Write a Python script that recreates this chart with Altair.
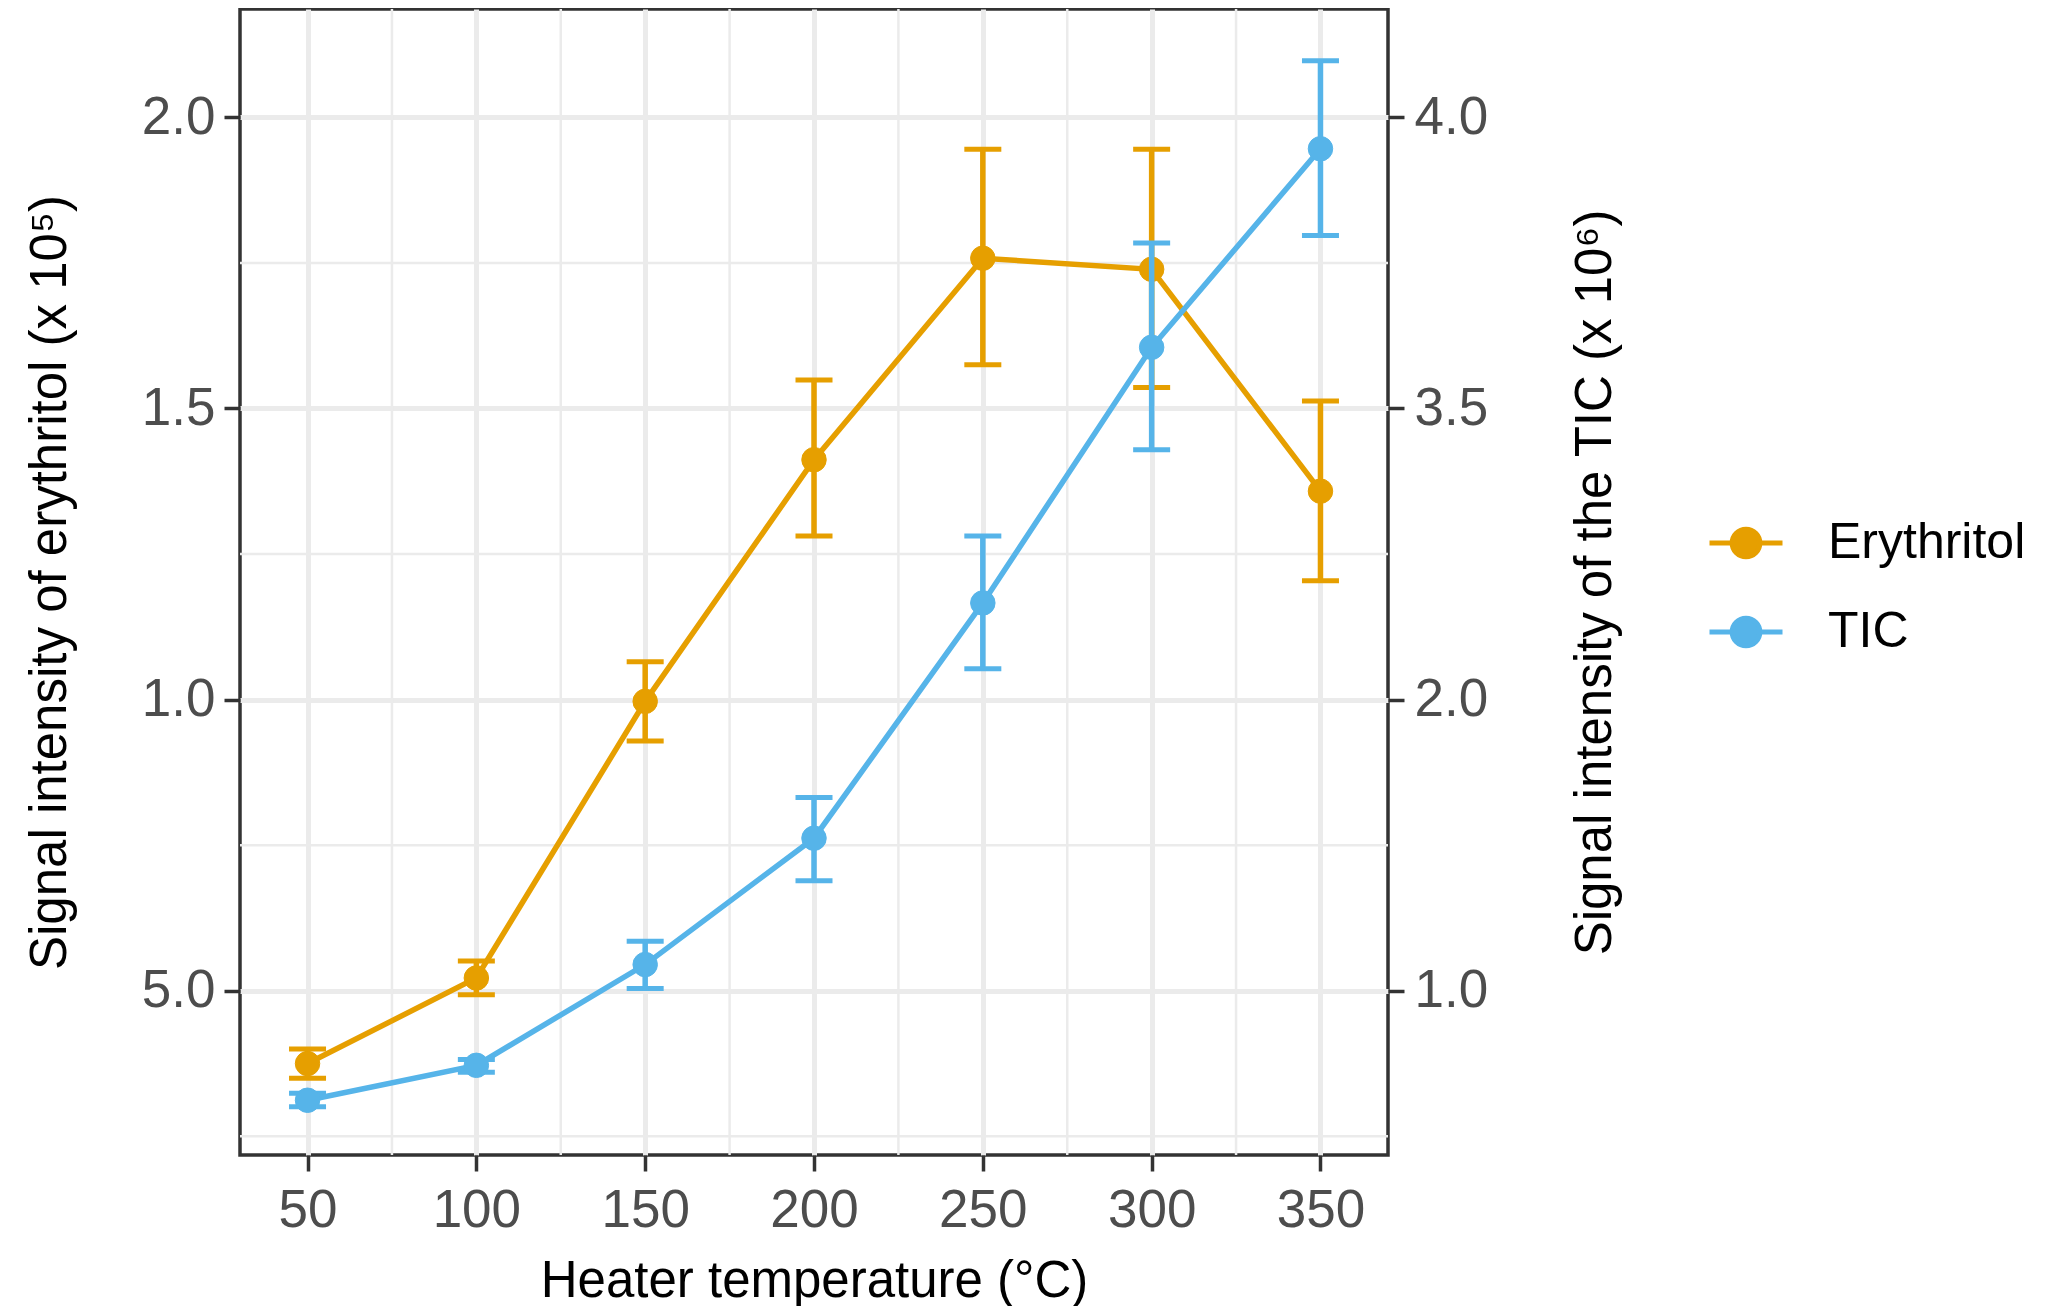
import altair as alt
import pandas as pd

# Heater temperature (°C)
temperature = [50, 100, 150, 200, 250, 300, 350]

# Erythritol signal (x 10^5): mean and error bar ends
ery_mean = [0.375, 0.522, 0.997, 1.412, 1.758, 1.739, 1.358]
ery_lo = [0.350, 0.493, 0.929, 1.281, 1.575, 1.536, 1.204]
ery_hi = [0.400, 0.551, 1.065, 1.549, 1.945, 1.945, 1.513]

# TIC signal (x 10^6): mean and error bar ends
tic_mean = [0.624, 0.744, 1.090, 1.524, 2.498, 3.605, 3.946]
tic_lo = [0.602, 0.720, 1.008, 1.378, 2.159, 3.287, 3.797]
tic_hi = [0.648, 0.764, 1.170, 1.664, 2.843, 3.784, 4.097]

series_names = ["Erythritol", "TIC"]
series_colors = ["#E69F00", "#56B4E9"]

# axis ticks and labels
x_ticks = [50, 100, 150, 200, 250, 300, 350]
x_minor = [75, 125, 175, 225, 275, 325]
left_ticks = [0.5, 1.0, 1.5, 2.0]
left_tick_labels = ["5.0", "1.0", "1.5", "2.0"]
left_minor = [0.25, 0.75, 1.25, 1.75]
right_ticks = [1.0, 2.0, 3.5, 4.0]

# left axis is linear, right axis labels sit at the same heights (piecewise)
left_breaks = [0.218, 0.5, 1.0, 1.5, 2.0, 2.186]
right_breaks = [0.436, 1.0, 2.0, 3.5, 4.0, 4.186]

W, H = 1148, 1146
FONT = "Liberation Sans"


def ypix(v):
    return H * (left_breaks[-1] - v) / (left_breaks[-1] - left_breaks[0])


left_scale = alt.Scale(domain=[left_breaks[0], left_breaks[-1]], nice=False, zero=False)
right_scale = alt.Scale(
    type="linear",
    domain=right_breaks,
    range=[ypix(v) for v in left_breaks],
    nice=False,
    zero=False,
)
x_scale = alt.Scale(domain=[30, 370], nice=False, zero=False)

label_expr = " : ".join(
    f"datum.value == {v} ? '{lab}'" for v, lab in zip(left_ticks, left_tick_labels)
) + " : ''"

x_axis = alt.Axis(
    values=x_ticks,
    title="Heater temperature (°C)",
    grid=True,
    labelPadding=13,
    titleY=126,
    titleBaseline="middle",
)
left_axis = alt.Axis(
    values=left_ticks,
    labelExpr=label_expr,
    title="Signal intensity of erythritol (x 10⁵)",
    grid=True,
    labelPadding=9,
    titleX=-190,
    titleY=H / 2,
    titleBaseline="middle",
    titleAlign="center",
)
right_axis = alt.Axis(
    values=right_ticks,
    format=".1f",
    orient="right",
    title="Signal intensity of the TIC (x 10⁶)",
    grid=False,
    labelPadding=10,
    titleAngle=270,
    titleX=207,
    titleY=H / 2,
    titleBaseline="middle",
    titleAlign="center",
)

legend_symbol = "M-1,0L1,0M-0.38,0A0.38,0.38,0,1,1,0.38,0A0.38,0.38,0,1,1,-0.38,0Z"
series_legend = alt.Legend(
    title=None,
    orient="none",
    legendX=1467,
    legendY=495,
    symbolType=legend_symbol,
    symbolSize=5329,
    symbolStrokeWidth=5,
    symbolOpacity=1,
    labelFont=FONT,
    labelFontSize=50,
    labelColor="#000000",
    labelLimit=500,
    labelOffset=43,
    rowPadding=25,
    padding=0,
)
series_scale = alt.Scale(domain=series_names, range=series_colors)
color_enc = alt.Color("series:N", scale=series_scale, legend=series_legend)
fill_enc = alt.Fill("series:N", scale=series_scale, legend=series_legend)
stroke_enc = alt.Stroke("series:N", scale=series_scale, legend=series_legend)
x_enc = alt.X("temp:Q", scale=x_scale, axis=x_axis)


def series_layers(name, mean, lo, hi, scale, axis):
    df = pd.DataFrame(
        {"temp": temperature, "mean": mean, "lo": lo, "hi": hi, "series": name}
    )
    base = alt.Chart(df).encode(x=x_enc)
    bars = base.mark_rule(strokeWidth=5.5).encode(
        y=alt.Y("lo:Q", scale=scale, axis=axis), y2="hi:Q", color=color_enc
    )
    cap_lo = base.mark_tick(orient="horizontal", size=37, thickness=5, opacity=1).encode(
        y=alt.Y("lo:Q", scale=scale, axis=axis), color=color_enc
    )
    cap_hi = base.mark_tick(orient="horizontal", size=37, thickness=5, opacity=1).encode(
        y=alt.Y("hi:Q", scale=scale, axis=axis), color=color_enc
    )
    line = base.mark_line(strokeWidth=5.5).encode(
        y=alt.Y("mean:Q", scale=scale, axis=axis), color=color_enc
    )
    pts = base.mark_circle(size=600, opacity=1, strokeWidth=1).encode(
        y=alt.Y("mean:Q", scale=scale, axis=axis), fill=fill_enc, stroke=stroke_enc
    )
    return [bars, cap_lo, cap_hi, line, pts]


# minor grid lines
x_minor_rules = (
    alt.Chart(pd.DataFrame({"v": x_minor}))
    .mark_rule(color="#EBEBEB", strokeWidth=2.5)
    .encode(x=alt.X("v:Q", scale=x_scale, axis=x_axis))
)
y_minor_rules = (
    alt.Chart(pd.DataFrame({"v": left_minor}))
    .mark_rule(color="#EBEBEB", strokeWidth=2.5)
    .encode(y=alt.Y("v:Q", scale=left_scale, axis=left_axis))
)

left_group = alt.layer(
    x_minor_rules,
    y_minor_rules,
    *series_layers("Erythritol", ery_mean, ery_lo, ery_hi, left_scale, left_axis),
)
right_group = alt.layer(
    *series_layers("TIC", tic_mean, tic_lo, tic_hi, right_scale, right_axis)
)

chart = (
    alt.layer(left_group, right_group)
    .resolve_scale(y="independent")
    .properties(
        width=W,
        height=H,
        background="white",
        autosize=alt.AutoSizeParams(type="none"),
        padding={"left": 232, "top": 1, "right": 671, "bottom": 151},
    )
    .configure_view(stroke="#333333", strokeWidth=3.5, fill="white")
    .configure_axis(
        labelFont=FONT,
        labelFontSize=53,
        labelColor="#4D4D4D",
        titleFont=FONT,
        titleFontSize=51,
        titleFontWeight="normal",
        titleColor="#000000",
        tickColor="#333333",
        tickWidth=3.5,
        tickSize=16,
        domain=False,
        gridColor="#EBEBEB",
        gridWidth=5,
    )
)

chart.save("out.html", embed_options={"renderer": "svg", "actions": False})
